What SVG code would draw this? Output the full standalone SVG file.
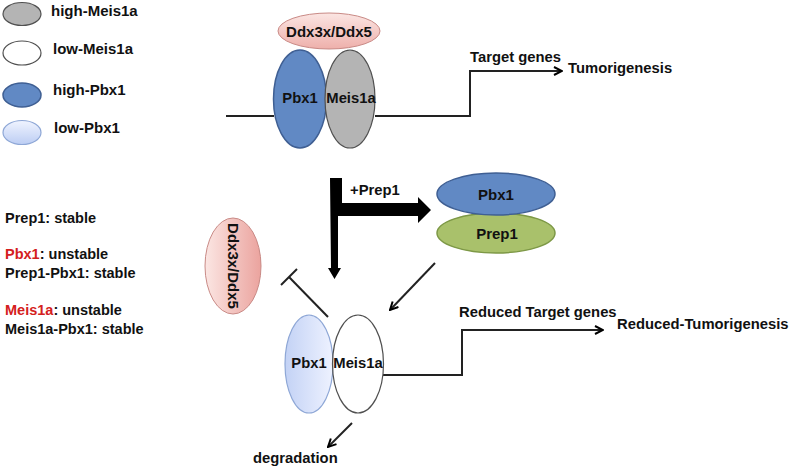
<svg xmlns="http://www.w3.org/2000/svg" width="797" height="470" viewBox="0 0 797 470">
<defs>
<linearGradient id="gPink" x1="0" y1="0" x2="0" y2="1"><stop offset="0" stop-color="#fbe6e3"/><stop offset="1" stop-color="#eeb0ab"/></linearGradient>
<linearGradient id="gPinkV" x1="0" y1="0" x2="1" y2="0"><stop offset="0" stop-color="#fbe6e3"/><stop offset="1" stop-color="#eba39e"/></linearGradient>
<linearGradient id="gLight" x1="0" y1="0" x2="0" y2="1"><stop offset="0" stop-color="#f0f4ff"/><stop offset="1" stop-color="#bccdf3"/></linearGradient>
<linearGradient id="gLightB" x1="0" y1="0" x2="1" y2="0"><stop offset="0" stop-color="#c3d2f5"/><stop offset="1" stop-color="#eef2ff"/></linearGradient>
<marker id="ah" viewBox="0 0 10 10" refX="9" refY="5" markerWidth="10" markerHeight="10" markerUnits="userSpaceOnUse" orient="auto"><path d="M1,1 L9,5 L1,9" fill="none" stroke="#000" stroke-width="2"/></marker>
</defs>
<style>
text{font-family:"Liberation Sans",Arial,sans-serif;font-weight:bold;fill:#111;}
.t14{font-size:14.8px;}
.t15{font-size:15px;}
.lg{font-size:15px;}
.nt{font-size:14.5px;}
.red{fill:#d42020;}
.gray{fill:#b4b4b4;stroke:#505050;stroke-width:1.2;}
.white{fill:#fff;stroke:#505050;stroke-width:1.2;}
.blue{fill:#6189c4;stroke:#3f5f93;stroke-width:1.5;}
.light{fill:url(#gLight);stroke:#8ea7d6;stroke-width:1.2;}
.green{fill:#a9c16b;stroke:#7d9846;stroke-width:1.5;}
.line{fill:none;stroke:#222;stroke-width:2;}
</style>

<g id="legend">
<ellipse class="gray" cx="22" cy="14" rx="19" ry="11.5"/>
<ellipse class="white" cx="22" cy="53" rx="19" ry="12"/>
<ellipse class="blue" cx="22" cy="95" rx="19" ry="12"/>
<ellipse class="light" cx="22" cy="132.5" rx="19" ry="12"/>
<text class="lg" x="51" y="16">high-Meis1a</text>
<text class="lg" x="53" y="54">low-Meis1a</text>
<text class="lg" x="53" y="95">high-Pbx1</text>
<text class="lg" x="54" y="133">low-Pbx1</text>
</g>

<g id="notes">
<text class="nt" x="5" y="223">Prep1: stable</text>
<text class="nt" x="5" y="259"><tspan class="red">Pbx1</tspan>: unstable</text>
<text class="nt" x="5" y="278">Prep1-Pbx1: stable</text>
<text class="nt" x="5" y="315"><tspan class="red">Meis1a</tspan>: unstable</text>
<text class="nt" x="5" y="334">Meis1a-Pbx1: stable</text>
</g>

<g id="connectors">
<path class="line" d="M226,116 H274"/>
<path class="line" d="M375,116 H470 V71 H562" marker-end="url(#ah)"/>
<path class="line" d="M383,375 H462 V330 H603" marker-end="url(#ah)"/>
<path d="M330,178 H342 V203 H418 V197 L431,210 L418,223 V216 H338 V268 H341 L334.5,279 L328,268 H331 Z" fill="#000"/>
<path class="line" d="M435,263 L390,310" marker-end="url(#ah)"/>
<path class="line" d="M352,423 L328,447" marker-end="url(#ah)"/>
<path class="line" d="M328,317 L289,277"/>
<path class="line" d="M281,285 L297,269"/>
</g>

<g id="top-complex">
<ellipse cx="329" cy="31" rx="51" ry="18" fill="url(#gPink)" stroke="#c98a86" stroke-width="1"/>
<text class="t15" x="329" y="37" text-anchor="middle">Ddx3x/Ddx5</text>
<ellipse class="blue" cx="300" cy="99" rx="26.5" ry="49"/>
<ellipse class="gray" cx="350" cy="99" rx="25" ry="49"/>
<text class="t14" x="300" y="103" text-anchor="middle">Pbx1</text>
<text class="t14" x="351" y="103" text-anchor="middle">Meis1a</text>
</g>

<g id="targets-top">
<text class="t14" x="470" y="62">Target genes</text>
<text class="t14" x="568" y="73">Tumorigenesis</text>
</g>

<g id="prep1-label">
<text class="t14" x="350" y="195">+Prep1</text>
</g>

<g id="pbx1-prep1">
<ellipse class="green" cx="496" cy="233" rx="59" ry="20"/>
<ellipse class="blue" cx="496" cy="194" rx="59" ry="21"/>
<text class="t15" x="496" y="200" text-anchor="middle">Pbx1</text>
<text class="t15" x="497" y="239" text-anchor="middle">Prep1</text>
</g>

<g id="ddx-side">
<ellipse cx="233" cy="266" rx="28" ry="48" fill="url(#gPinkV)" stroke="#c98a86" stroke-width="1"/>
<text class="t15" transform="translate(233,266) rotate(90)" x="0" y="5" text-anchor="middle">Ddx3x/Ddx5</text>
</g>

<g id="bottom-complex">
<ellipse cx="309" cy="364" rx="24" ry="49" fill="url(#gLightB)" stroke="#8ea7d6" stroke-width="1.2"/>
<ellipse cx="358" cy="364" rx="25.5" ry="49" fill="#fff" fill-opacity="0.6" stroke="#505050" stroke-width="1.2"/>
<text class="t14" x="309" y="368" text-anchor="middle">Pbx1</text>
<text class="t14" x="358" y="368" text-anchor="middle">Meis1a</text>
</g>

<g id="targets-bottom">
<text class="t14" x="459" y="317">Reduced Target genes</text>
<text class="t14" x="617" y="329">Reduced-Tumorigenesis</text>
</g>

<g id="degradation">
<text class="t14" x="253" y="463">degradation</text>
</g>
</svg>
